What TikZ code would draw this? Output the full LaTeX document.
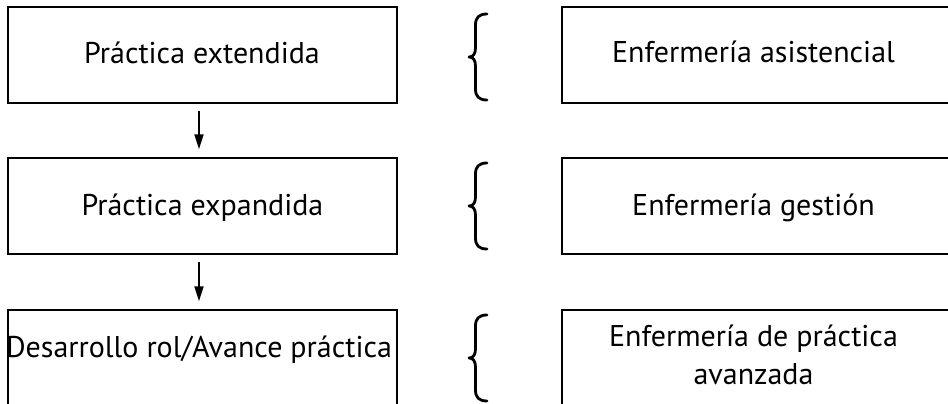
\documentclass[tikz,border=0pt]{standalone}
\usepackage{fontspec}
\setmainfont{PT Sans}
\usetikzlibrary{arrows.meta}
\begin{document}
\begin{tikzpicture}[x=1pt,y=-1pt,
  box/.style={draw,line width=1.5pt,minimum width=389pt,minimum height=96pt,inner sep=0pt},
  rbox/.style={draw,line width=1.5pt,minimum width=390pt,minimum height=96pt,inner sep=0pt},
  lbl/.style={font=\fontsize{30}{38}\selectfont,align=center,inner sep=0pt,anchor=base},
  flow/.style={line width=1.8pt,-{Triangle[width=9pt,length=15pt]},shorten <=7pt,shorten >=8pt},
  curlybrace/.pic={\draw[line width=2.8pt,line cap=round,line join=round]
     (9,-43) .. controls (1,-43) and (-2.5,-39.5) .. (-2.5,-32) -- (-2.5,-9)
     .. controls (-2.5,-3) and (-5,0) .. (-9,0)
     .. controls (-5,0) and (-2.5,3) .. (-2.5,9) -- (-2.5,32)
     .. controls (-2.5,39.5) and (1,43) .. (9,43);}]
\useasboundingbox (0,0) rectangle (948,404);
% left column
\node[box] (l1) at (202.5,55) {};
\node[box] (l2) at (202.5,206) {};
\node[box,minimum height=110pt] (l3) at (202.5,365) {};
\node[lbl] (t1) at (202,64) {Práctica extendida};
\node[lbl] (t2) at (202.5,215) {Práctica expandida};
\node[lbl] (t3) at (199,357) {Desarrollo rol/Avance práctica};
% right column
\node[rbox] (r1) at (757,55) {};
\node[rbox] (r2) at (757,206) {};
\node[rbox,minimum height=110pt] (r3) at (757,365) {};
\node[lbl] (u1) at (753.5,63) {Enfermería asistencial};
\node[lbl] (u2) at (753.5,215) {Enfermería gestión};
\node[lbl,anchor=center] (u3) at (753.5,355) {Enfermería de práctica\\avanzada};
% arrows
\draw[flow] ([xshift=-3.5pt]l1.south) -- ([xshift=-3.5pt]l2.north);
\draw[flow] ([xshift=-3.5pt]l2.south) -- ([xshift=-3.5pt]l3.north);
% braces
\pic at (478,57) {curlybrace};
\pic at (478,206) {curlybrace};
\pic at (478,358) {curlybrace};
\end{tikzpicture}
\end{document}
